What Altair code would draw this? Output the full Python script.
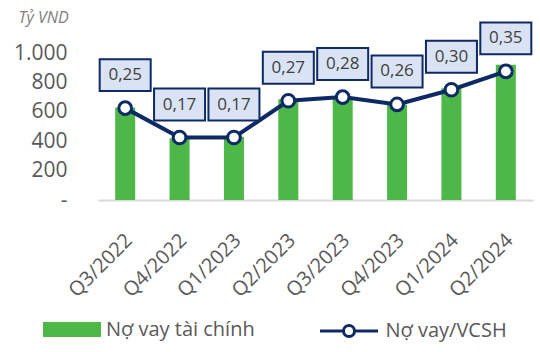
import altair as alt
import pandas as pd

quarters = ["Q3/2022", "Q4/2022", "Q1/2023", "Q2/2023", "Q3/2023", "Q4/2023", "Q1/2024", "Q2/2024"]
debt = [630, 420, 430, 685, 690, 650, 760, 920]
ratio = [0.25, 0.17, 0.17, 0.27, 0.28, 0.26, 0.30, 0.35]
ratio_labels = ["0,25", "0,17", "0,17", "0,27", "0,28", "0,26", "0,30", "0,35"]
y_ticks = [0, 200, 400, 600, 800, 1000]
series_bar = "Nợ vay tài chính"
series_line = "Nợ vay/VCSH"

df = pd.DataFrame({"q": quarters, "debt": debt, "ratio": ratio, "lbl": ratio_labels,
                   "s1": series_bar, "s2": series_line})

GREEN = "#4db848"
NAVY = "#0e2a64"
BOXFILL = "#dae3f3"
GRAY = "#595959"
FONT = "Open Sans"

BOX = "M-1,-0.627L1,-0.627L1,0.627L-1,0.627Z"
SWATCH = "M-1,-0.26L1,-0.26L1,0.26L-1,0.26Z"
LINESYM = ("M-1,0L-0.19,0M0.19,0L1,0M-0.19,0A0.19,0.19,0,1,0,0.19,0"
           "A0.19,0.19,0,1,0,-0.19,0Z")

x = alt.X("q:N", sort=quarters,
          scale=alt.Scale(paddingInner=0, paddingOuter=0),
          axis=alt.Axis(title=None, labelAngle=-45, labelAlign="right", labelBaseline="middle",
                        labelPadding=37, labelOffset=4, labelFontSize=20, labelColor=GRAY,
                        labelFont=FONT, ticks=False, domainColor="#d9d9d9", domainWidth=2))

bars = alt.Chart(df).mark_bar(size=20).encode(
    x=x,
    y=alt.Y("debt:Q", scale=alt.Scale(domain=[0, 1000]),
            axis=alt.Axis(values=y_ticks, grid=False, domain=False, ticks=False,
                          labelExpr="datum.value == 0 ? '-' : replace(format(datum.value, ','), ',', '.')",
                          labelPadding=31, labelFontSize=21, labelColor=GRAY, labelFont=FONT,
                          title="Tỷ VND", titleAngle=0, titleX=-80, titleY=-31, titleAlign="left",
                          titleBaseline="alphabetic", titleFontStyle="italic", titleFontWeight="normal",
                          titleFontSize=16, titleColor="#7f7f7f", titleFont=FONT)),
    color=alt.Color("s1:N", scale=alt.Scale(range=[GREEN]),
                    legend=alt.Legend(title=None, orient="none", legendX=-55, legendY=247.5,
                                      symbolType=SWATCH, symbolSize=3364, symbolStrokeWidth=0,
                                      labelFontSize=20, labelFont=FONT, labelColor=GRAY,
                                      labelOffset=5, padding=0))
)

yr = alt.Y("ratio:Q", scale=alt.Scale(domain=[0, 0.4]), axis=None)

line = alt.Chart(df).mark_line(strokeWidth=4).encode(
    x=x, y=yr,
    stroke=alt.Stroke("s2:N", scale=alt.Scale(range=[NAVY]),
                      legend=alt.Legend(title=None, orient="none", legendX=220.5, legendY=247.5,
                                        symbolType=LINESYM, symbolSize=3364, symbolStrokeWidth=3,
                                        symbolFillColor="white", symbolStrokeColor=NAVY,
                                        labelFontSize=20, labelFont=FONT, labelColor=GRAY,
                                        labelOffset=6, padding=0))
)

pts = alt.Chart(df).mark_point(shape="circle", size=160, filled=True, fill="white",
                               stroke=NAVY, strokeWidth=3, opacity=1).encode(x=x, y=yr)

boxes = alt.Chart(df).mark_point(shape=BOX, size=51 * 51, filled=True, fill=BOXFILL,
                                 stroke=NAVY, strokeWidth=2, opacity=1, yOffset=-33).encode(x=x, y=yr)

txt = alt.Chart(df).mark_text(yOffset=-33, fontSize=17, font=FONT, color="#404040",
                              baseline="middle").encode(x=x, y=yr, text="lbl:N")

chart = alt.layer(bars, alt.layer(line, pts, boxes, txt)).resolve_scale(y="independent").properties(
    width=435, height=147,
    autosize=alt.AutoSizeParams(type="none"),
    padding={"left": 98, "top": 53, "right": 7, "bottom": 152},
).configure_view(stroke=None)

chart.save("out.html", embed_options={"renderer": "svg", "actions": False})
